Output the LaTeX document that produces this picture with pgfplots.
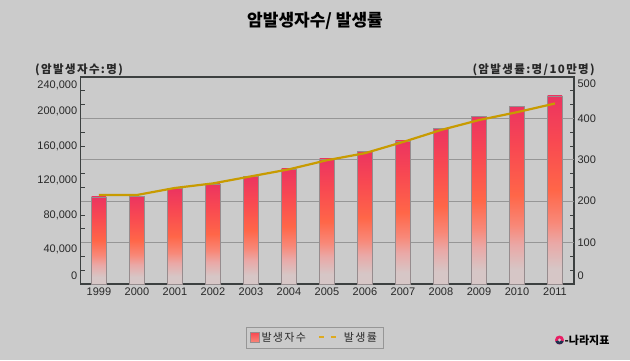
\documentclass[border=0pt]{standalone}
\usepackage{pgfplots}
\pgfplotsset{compat=1.18}
\usepackage{fontspec}
\setmainfont{Liberation Sans}
\newfontfamily\kr{Noto Sans CJK KR}
\newfontfamily\krs{Noto Sans CJK KR}[LetterSpace=12]
\definecolor{bg}{RGB}{203,203,203}
\definecolor{axisc}{RGB}{60,64,64}
\definecolor{gridc}{RGB}{150,150,150}
\definecolor{textc}{RGB}{40,40,40}
\definecolor{barborder}{RGB}{150,140,142}
\definecolor{btop}{RGB}{236,52,96}
\definecolor{bred}{RGB}{248,72,82}
\definecolor{borange}{RGB}{255,102,72}
\definecolor{bsalmon}{RGB}{248,136,120}
\definecolor{bpink}{RGB}{234,168,166}
\definecolor{bbot}{RGB}{214,198,198}
\definecolor{linec}{RGB}{200,155,0}
\definecolor{legline}{RGB}{222,170,30}
\definecolor{logored}{RGB}{232,30,100}
\definecolor{logonavy}{RGB}{30,50,80}
\pgfdeclareverticalshading{barshade}{100bp}{color(0bp)=(bbot); color(29bp)=(bbot); color(36bp)=(bpink); color(41.5bp)=(bsalmon); color(50bp)=(borange); color(63.5bp)=(bred); color(75bp)=(btop); color(100bp)=(btop)}
\pgfplotsset{mybar/.style={ybar, bar width=14.5pt, bar shift=0pt, draw=barborder, line width=0.5pt, shade, shading=barshade}}
\begin{document}
\begin{tikzpicture}[x=1pt,y=1pt]
\useasboundingbox (0,0) rectangle (630,360);
\fill[bg] (0,0) rectangle (630,360);
% left axis with bars
\begin{axis}[
  at={(80.7pt,76pt)}, anchor=south west, scale only axis,
  width=493.3pt, height=207pt,
  xmin=-0.48, xmax=12.5, ymin=0, ymax=240000,
  scaled y ticks=false,
  axis line style={draw=axisc, line width=1.2pt},
  xtick={0,1,2,3,4,5,6,7,8,9,10,11,12},
  xticklabels={1999,2000,2001,2002,2003,2004,2005,2006,2007,2008,2009,2010,2011},
  ytick={9275,40000,80000,120000,160000,200000,230725},
  yticklabels={0,{40,000},{80,000},{120,000},{160,000},{200,000},{240,000}},
  minor ytick={16000,32000,48000,64000,80000,96000,112000,128000,144000,160000,176000,192000,208000,224000},
  ytick pos=both, yticklabel pos=left, xtick pos=bottom,
  tick align=inside,
  major tick length=0pt, minor tick length=4.5pt,
  minor tick style={draw=axisc, line width=0.8pt},
  extra y ticks={48000,96000,144000,192000},
  extra y tick labels={},
  extra y tick style={grid=major, major tick length=0pt},
  major grid style={draw=gridc, line width=0.8pt},
  ticklabel style={font=\fontsize{11}{13}\selectfont, text=textc},
  /pgf/number format/assume math mode=true,
]
\addplot[mybar] coordinates {(0,101000)};
\addplot[mybar] coordinates {(1,101800)};
\addplot[mybar] coordinates {(2,110600)};
\addplot[mybar] coordinates {(3,116200)};
\addplot[mybar] coordinates {(4,125000)};
\addplot[mybar] coordinates {(5,133500)};
\addplot[mybar] coordinates {(6,145000)};
\addplot[mybar] coordinates {(7,154000)};
\addplot[mybar] coordinates {(8,166000)};
\addplot[mybar] coordinates {(9,180500)};
\addplot[mybar] coordinates {(10,194500)};
\addplot[mybar] coordinates {(11,206000)};
\addplot[mybar] coordinates {(12,218000)};
\end{axis}
% right axis with rate line
\begin{axis}[
  at={(80.7pt,76pt)}, anchor=south west, scale only axis,
  width=493.3pt, height=207pt,
  xmin=-0.48, xmax=12.5, ymin=0, ymax=500,
  axis y line*=right, axis x line=none,
  y axis line style={draw=none},
  ytick={19.3,100,200,300,400,483.1},
  yticklabels={0,100,200,300,400,500},
  major tick length=0pt,
  ticklabel style={font=\fontsize{11}{13}\selectfont, text=textc},
  /pgf/number format/assume math mode=true,
  legend columns=2,
  legend style={at={(0.474,-0.258)}, anchor=center, fill=bg, draw=gridc,
    font=\krs\fontsize{11}{13}\selectfont, text=textc,
    inner xsep=4pt, inner ysep=3pt,
    /tikz/every even column/.append style={column sep=10pt}},
]
\addlegendimage{legend image code/.code={\draw[draw=barborder, line width=0.5pt, top color=bred, bottom color=bsalmon] (0pt,-5pt) rectangle (9pt,5pt);}}
\addlegendentry{발생자수}
\addplot[draw=linec, line width=2.2pt,
  legend image code/.code={\draw[legline, line width=2pt, dash pattern=on 5pt off 7pt] (0pt,0pt) -- (22pt,0pt);}]
  coordinates {(0,215) (1,215) (2,232) (3,243) (4,260) (5,277) (6,299) (7,316) (8,343) (9,372) (10,396) (11,415) (12,436)};
\addlegendentry{발생률}
\end{axis}
% texts
\node[font=\kr\bfseries\fontsize{17}{20}\selectfont, text=black] at (315,339) {암발생자수/ 발생률};
\node[font=\krs\bfseries\fontsize{11.5}{13}\selectfont, text=textc, anchor=west, inner sep=0pt] at (35,290) {(암발생자수:명)};
\node[font=\krs\bfseries\fontsize{11.5}{13}\selectfont, text=textc, anchor=east, inner sep=0pt] at (595,290) {(암발생률:명/10만명)};
\fill[logored] (559.5,20) circle (4.5);
\fill[logonavy] (559.5,20) -- ++(-20:4.5) arc (-20:-160:4.5) -- cycle;
\fill[bg] (559.5,20) circle (1.6);
\node[font=\kr\bfseries\fontsize{11}{13}\selectfont, text=black, anchor=west, inner sep=0pt] at (564.5,20) {-나라지표};
\end{tikzpicture}
\end{document}
